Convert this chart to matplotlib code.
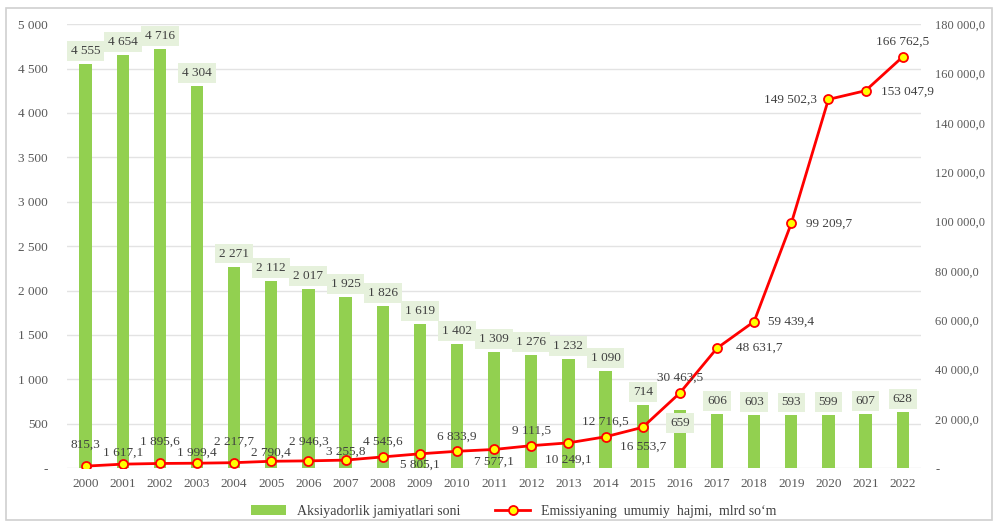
import matplotlib.pyplot as plt
from matplotlib.patches import Rectangle

# data
years = [str(y) for y in range(2000, 2023)]
jamiyatlar = [4555, 4654, 4716, 4304, 2271, 2112, 2017, 1925, 1826, 1619, 1402,
              1309, 1276, 1232, 1090, 714, 659, 606, 603, 593, 599, 607, 628]
emissiya = [815.3, 1617.1, 1895.6, 1999.4, 2217.7, 2790.4, 2946.3, 3255.8, 4545.6,
            5805.1, 6833.9, 7577.1, 9111.5, 10249.1, 12716.5, 16553.7, 30463.5,
            48631.7, 59439.4, 99209.7, 149502.3, 153047.9, 166762.5]
left_ticks = [0, 500, 1000, 1500, 2000, 2500, 3000, 3500, 4000, 4500, 5000]
right_ticks = [0, 20000, 40000, 60000, 80000, 100000, 120000, 140000, 160000, 180000]

# label offsets for the line (pixels), like excel placed them
line_off = [(0, 21), (0, 11), (0, 22), (0, 10), (0, 21), (0, 9), (0, 19), (0, 8),
            (0, 15), (0, -11), (0, 15), (0, -12), (0, 15), (0, -17), (0, 15),
            (0, -19), (0, 15), (42, 0), (37, 0), (38, 0), (-38, 0), (42, -1), (0, 15)]

plt.rcParams['font.family'] = ['Liberation Serif', 'DejaVu Serif']

def fmt_int(v):
    return f"{v:,.0f}".replace(",", " ")

def fmt_dec(v):
    return f"{v:,.1f}".replace(",", " ").replace(".", ",")

fig = plt.figure(figsize=(9.98, 5.26), dpi=100)
fig.patches.append(Rectangle((0.006, 0.012), 0.988, 0.972, transform=fig.transFigure,
                             fill=False, edgecolor='#d0d0d0', linewidth=1.2))
ax = fig.add_axes([0.0671, 0.110, 0.856, 0.844])
ax2 = ax.twinx()

x = list(range(len(years)))
ax.bar(x, jamiyatlar, width=0.33, color='#92d050', zorder=2,
       label='Aksiyadorlik jamiyatlari soni')
ax.set_ylim(0, 5000)
ax.set_xlim(-0.5, len(years) - 0.5)
ax.set_yticks(left_ticks)
ax.set_yticklabels(['-'] + [fmt_int(t) for t in left_ticks[1:]])
ax.set_xticks(x)
ax.set_xticklabels(years)
ax.grid(axis='y', color='#e3e3e3', linewidth=1, zorder=0)
ax.set_axisbelow(True)
for s in ax.spines.values():
    s.set_visible(False)
for s in ax2.spines.values():
    s.set_visible(False)
ax.tick_params(axis='both', length=0, labelsize=9.5, colors='#595959', pad=7)
ax.tick_params(axis='y', pad=14)

for i, v in enumerate(jamiyatlar):
    dy = -13 if years[i] == '2016' else 13
    ax.annotate(fmt_int(v), (i, v), xytext=(0, dy), textcoords='offset pixels',
                ha='center', va='center', fontsize=9.5, color='#404040', zorder=5,
                bbox=dict(boxstyle='square,pad=0.3', facecolor='#e6f1dc', edgecolor='none'))

ax2.plot(x, emissiya, color='#ff0000', linewidth=2, marker='o', markersize=6.5,
         markerfacecolor='#ffff00', markeredgecolor='#ff0000', markeredgewidth=1.3,
         zorder=4, label='Emissiyaning  umumiy  hajmi,  mlrd so‘m')
ax2.set_ylim(0, 180000)
ax2.set_yticks(right_ticks)
ax2.set_yticklabels(['-'] + [fmt_dec(t) for t in right_ticks[1:]])
ax2.tick_params(axis='y', length=0, labelsize=9, colors='#595959', pad=10)
for lbl in ax2.get_yticklabels():
    lbl.set_horizontalalignment('left')

for i, v in enumerate(emissiya):
    dx, dy = line_off[i]
    ax2.annotate(fmt_dec(v), (i, v), xytext=(dx, dy), textcoords='offset pixels',
                 ha='center', va='center', fontsize=9.5, color='#404040', zorder=6)

h1, l1 = ax.get_legend_handles_labels()
h2, l2 = ax2.get_legend_handles_labels()
fig.legend(h1 + h2, l1 + l2, loc='lower center', bbox_to_anchor=(0.515, -0.008), ncol=2,
           frameon=False, fontsize=10, labelcolor='#404040', columnspacing=2.5,
           handlelength=2.5)

fig.savefig('out.png', dpi=100)
